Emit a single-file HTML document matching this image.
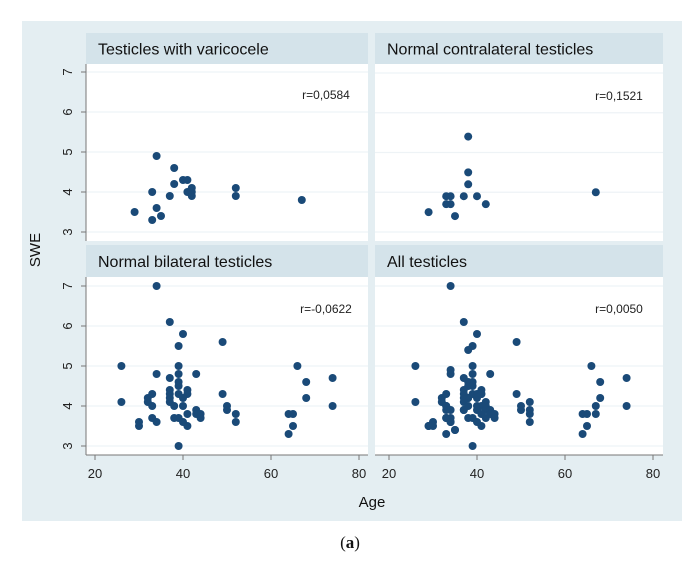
<!DOCTYPE html>
<html><head><meta charset="utf-8"><style>
html,body{margin:0;padding:0;background:#fff;width:699px;height:564px;overflow:hidden}
svg{display:block;font-family:"Liberation Sans",sans-serif}
</style></head><body>
<svg id="chart" width="699" height="564">
<rect x="22" y="21" width="660" height="500" fill="#e4eef2"/>
<text x="40" y="250" transform="rotate(-90 40 250)" text-anchor="middle" font-size="15" fill="#111">SWE</text>
<text x="372" y="507" text-anchor="middle" font-size="15" fill="#111">Age</text>
<text x="350" y="548" text-anchor="middle" font-size="17" font-family="Liberation Serif,serif" fill="#111">(<tspan font-weight="bold">a</tspan>)</text>
</svg>
<script>
const yTicks=[3,4,5,6,7];
const xTicks=[20,40,60,80];
const panelTitles=["Testicles with varicocele","Normal contralateral testicles","Normal bilateral testicles","All  testicles"];
const panelR=["r=0,0584","r=0,1521","r=-0,0622","r=0,0050"];
const varAge=[29,33,33,34,34,35,37,38,38,40,41,41,42,42,42,52,52,67];
const varSWE=[3.5,4.0,3.3,4.9,3.6,3.4,3.9,4.6,4.2,4.3,4.3,4.0,4.1,4.0,3.9,4.1,3.9,3.8];
const conAge=[29,33,33,34,34,35,37,38,38,38,40,42,67];
const conSWE=[3.5,3.9,3.7,3.9,3.7,3.4,3.9,5.4,4.5,4.2,3.9,3.7,4.0];
const bilAge=[26,26,30,30,32,32,33,33,33,34,34,34,37,37,37,37,37,37,38,38,39,39,39,39,39,39,39,39,40,40,40,40,41,41,41,41,43,43,43,44,44,49,49,50,50,52,52,64,64,65,65,66,68,68,74,74];
const bilSWE=[5.0,4.1,3.6,3.5,4.2,4.1,4.3,4.0,3.7,7.0,4.8,3.6,6.1,4.7,4.4,4.3,4.2,4.1,4.0,3.7,5.5,5.0,4.8,4.6,4.5,4.3,3.7,3.0,5.8,4.2,4.0,3.6,4.4,4.3,3.8,3.5,4.8,3.9,3.8,3.8,3.7,5.6,4.3,4.0,3.9,3.8,3.6,3.8,3.3,3.8,3.5,5.0,4.6,4.2,4.7,4.0];
const allAge=varAge.concat(conAge,bilAge);
const allSWE=varSWE.concat(conSWE,bilSWE);
const series=[[varAge,varSWE],[conAge,conSWE],[bilAge,bilSWE],[allAge,allSWE]];
const NS="http://www.w3.org/2000/svg";
const svg=document.getElementById("chart");
function mk(t,a,p){const e=document.createElementNS(NS,t);for(const k in a)e.setAttribute(k,a[k]);(p||svg).appendChild(e);return e;}
const panels=[{l:86,r:368,ht:33,hb:64,y7:72,y3:232,x20:95,x80:359},
{l:375,r:663,ht:33,hb:64,y7:73,y3:232,x20:389,x80:653},
{l:86,r:368,ht:245,hb:277,y7:286,y3:446,x20:95,x80:359},
{l:375,r:663,ht:245,hb:277,y7:286,y3:446,x20:389,x80:653}];
panels.forEach((p,i)=>{
  const xs=v=>p.x20+(v-20)*(p.x80-p.x20)/60;
  const ys=v=>p.y3-(v-3)*(p.y3-p.y7)/4;
  const g=mk("g",{});
  
  
  const bot=p.y3+9;
  const plot=mk("rect",{x:p.l,y:p.hb,width:p.r-p.l,height:bot-p.hb,fill:"#fff"},g);
  
  
  const hd=mk("rect",{x:p.l,y:p.ht,width:p.r-p.l,height:p.hb-p.ht,fill:"#d4e3ea"},g);
  
  
  const t=mk("text",{x:p.l+12,y:(p.ht+p.hb)/2+6,"font-size":16,fill:"#111"},g);
  t.textContent=panelTitles[i];
  
  
  yTicks.forEach(v=>{
    const gl=mk("line",{x1:p.l,x2:p.r,y1:ys(v),y2:ys(v),stroke:"#eef3f6","stroke-width":1.2},g);
    
    
  });
  if(i%2==0){
    mk("line",{x1:p.l,x2:p.l,y1:p.hb,y2:bot,stroke:"#777","stroke-width":1},g);
    yTicks.forEach(v=>{
      mk("line",{x1:p.l-5,x2:p.l,y1:ys(v),y2:ys(v),stroke:"#777"},g);
      const tl=mk("text",{x:72,y:ys(v),transform:`rotate(-90 72 ${ys(v)})`,"text-anchor":"middle","font-size":13,fill:"#222"},g);
      tl.textContent=v;
      
      
    });
  }
  if(i>=2){
    const ax=bot;
    mk("line",{x1:p.l,x2:p.r,y1:ax,y2:ax,stroke:"#777"},g);
    xTicks.forEach(v=>{
      mk("line",{x1:xs(v),x2:xs(v),y1:ax,y2:ax+5,stroke:"#777"},g);
      const tl=mk("text",{x:xs(v),y:ax+23,"text-anchor":"middle","font-size":13,fill:"#222"},g);
      tl.textContent=v;
      
      
    });
  }
  const r=mk("text",{x:p.l+(i%2?244:240),y:p.y7+27,"text-anchor":"middle","font-size":12,fill:"#222"},g);
  r.textContent=panelR[i];
  
  
  const [ax,sw]=series[i];
  ax.forEach((a,k)=>{
    const c=mk("circle",{cx:xs(a),cy:ys(sw[k]),r:4,fill:"#1a4a78"},g);
    
    
  });
});
</script>
</body></html>
